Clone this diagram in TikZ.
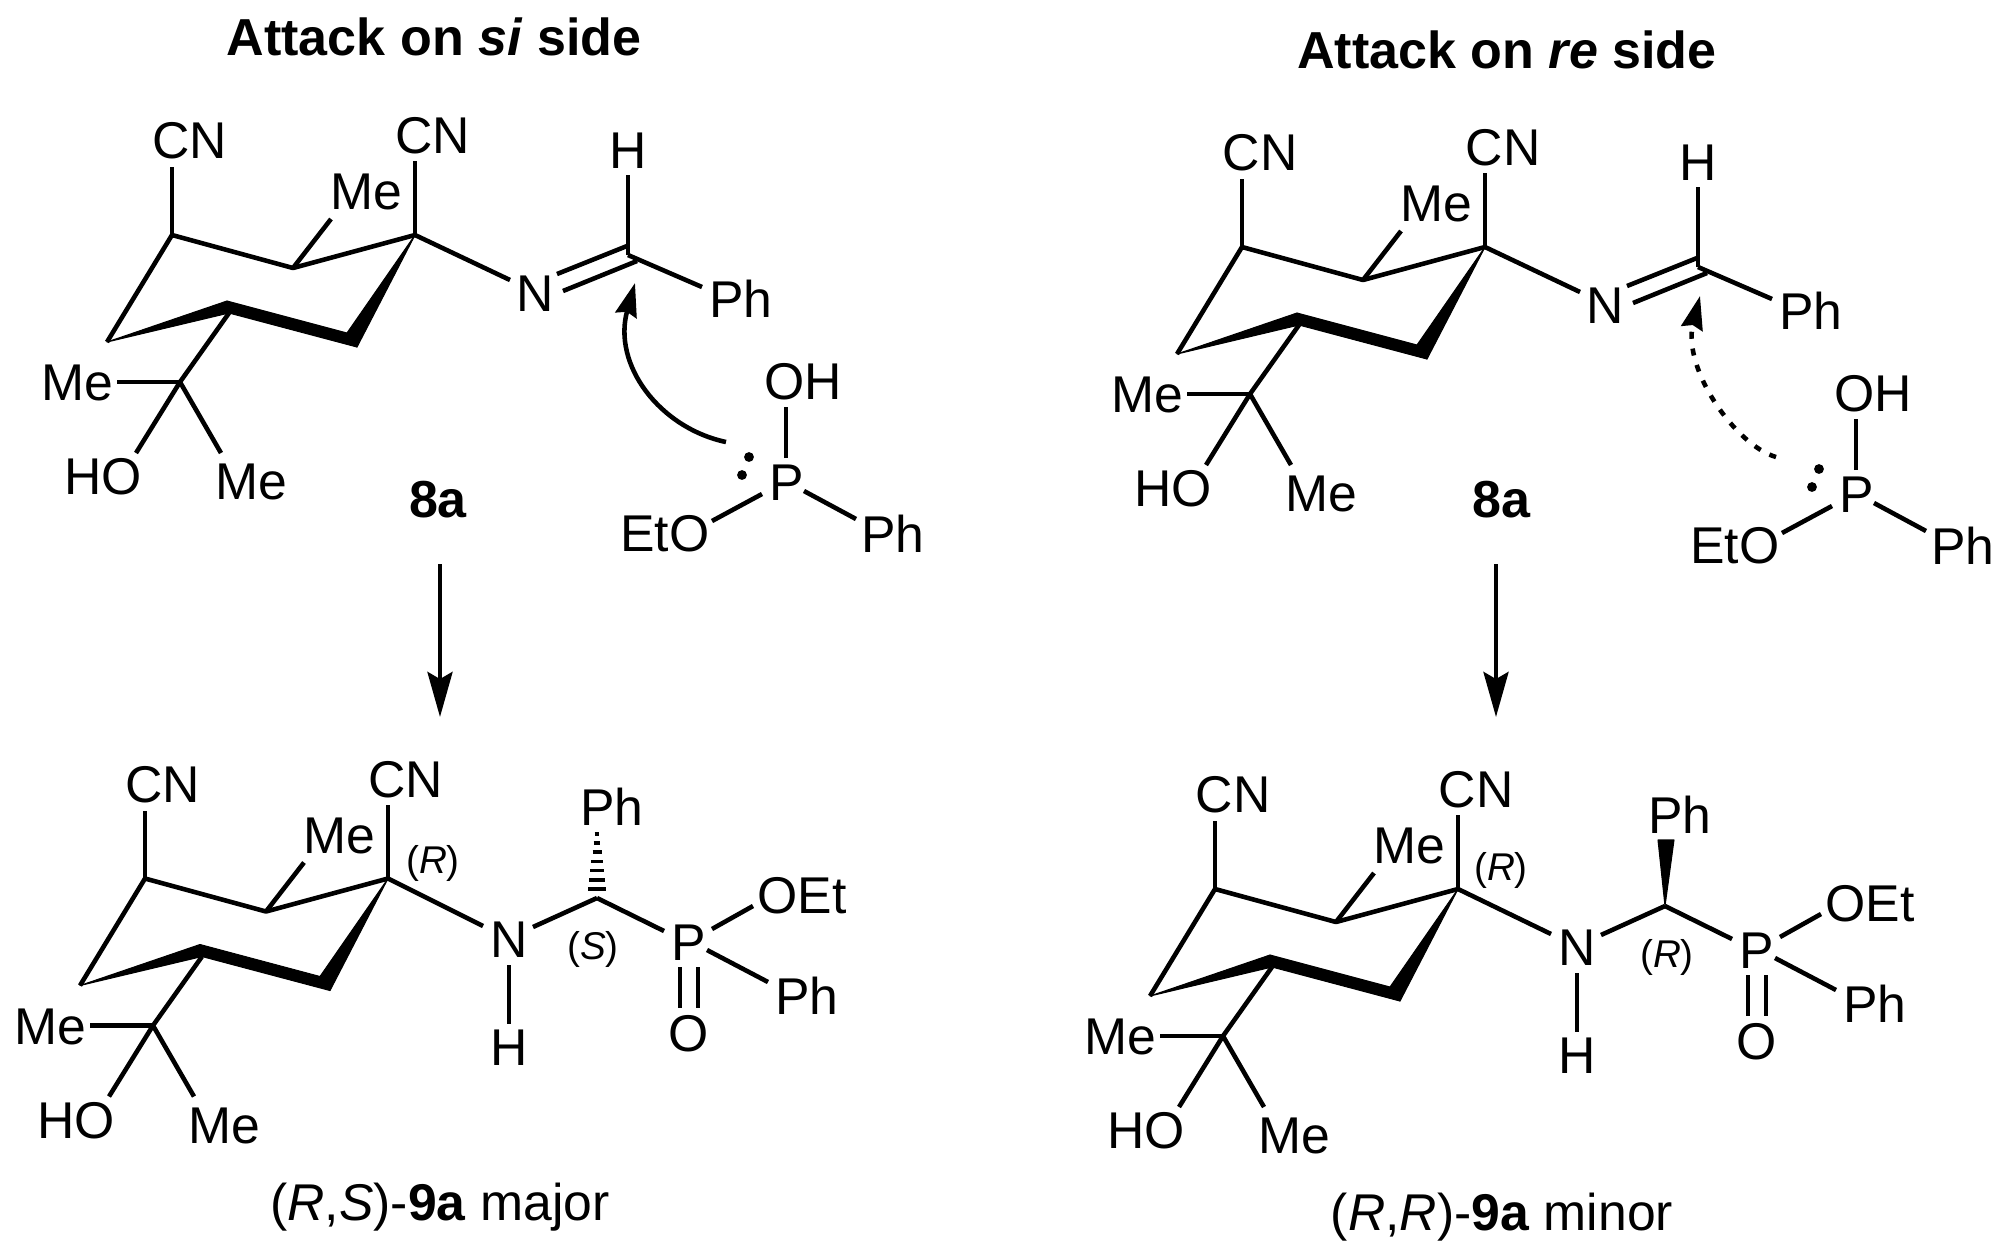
\documentclass[tikz,border=0pt]{standalone}
\usepackage{fontspec}
\setmainfont{Liberation Sans}
\usetikzlibrary{arrows.meta}

\tikzset{
	bond/.style = {line width = 1.3pt},
	atom/.style = {inner sep = 0pt, font = \fontsize{14.7}{17}\selectfont},
	tag/.style = {inner sep = 0pt, font = \fontsize{11}{13}\selectfont},
	head/.style = {inner sep = 0pt, font = \fontsize{14.8}{17}\selectfont\bfseries},
	solid wedge/.style = {draw, fill, line width = 0.3pt, line join = round},
	curly/.style = {bond, -{Stealth[length = 9.5pt, width = 6.2pt, inset = 1pt]}},
	% the chair with its cyano, methyl and carbinol groups
	chair/.pic = {
		\coordinate (a) at (172,235);
		\coordinate (b) at (293,268);
		\coordinate (c) at (415,235);
		\coordinate (d1) at (347,333);
		\coordinate (d2) at (357,347);
		\coordinate (e1) at (227,301);
		\coordinate (e2) at (229,313);
		\coordinate (f) at (107,342);
		\coordinate (q) at (180,382);
		\node [atom] (cna) at (190,141) {CN};
		\node [atom] (cnc) at (433,136) {CN};
		\node [atom] (meb) at (366,192) {Me};
		\node [atom] (mel) at (77,383) {Me};
		\node [atom] (ho) at (103,477) {HO};
		\node [atom] (mer) at (251,482) {Me};
		\coordinate (cnae) at (172,167);
		\coordinate (cnce) at (415,161);
		\coordinate (mebe) at (331,219);
		\coordinate (mele) at (117,382);
		\coordinate (hoe) at (136,453);
		\coordinate (mere) at (221,453);
		\draw [bond, line join = round] (f) -- (a) -- (b) -- (c);
		\path [solid wedge] (c) -- (d1) -- (d2) -- cycle;
		\path [solid wedge] (e1) -- (d1) -- (d2) -- (e2) -- cycle;
		\path [solid wedge] (f) -- (e1) -- (e2) -- cycle;
		\draw [bond] (a) -- (cnae);
		\draw [bond] (c) -- (cnce);
		\draw [bond] (b) -- (mebe);
		\draw [bond] (e2) -- (q);
		\draw [bond] (q) -- (mele);
		\draw [bond] (q) -- (hoe);
		\draw [bond] (q) -- (mere);
	},
	% the imine arm
	imine/.pic = {
		\coordinate (ne) at (510,280);
		\coordinate (ch) at (628,255);
		\node [atom] (n) at (535,294) {N};
		\node [atom] (h) at (628,151) {H};
		\node [atom] (ph) at (741,299) {Ph};
		\coordinate (he) at (628,175);
		\coordinate (phe) at (702,287);
		\coordinate (d1s) at (557,274);
		\coordinate (d1e) at (627,246);
		\coordinate (d2s) at (563,291);
		\coordinate (d2e) at (637,261);
		\draw [bond] (d1s) -- (d1e);
		\draw [bond] (d2s) -- (d2e);
		\draw [bond] (ch) -- (he);
		\draw [bond] (ch) -- (phe);
	},
	% the free phosphinite with its lone pair
	reagent/.pic = {
		\node [atom] (p) at (787,483) {P};
		\node [atom] (oh) at (803,382) {OH};
		\node [atom] (eto) at (665,534) {EtO};
		\node [atom] (ph) at (893,534) {Ph};
		\coordinate (ohs) at (786,458);
		\coordinate (ohe) at (786,407);
		\coordinate (etos) at (762,494);
		\coordinate (etoe) at (712,521);
		\coordinate (phs) at (804,491);
		\coordinate (phe) at (856,519);
		\draw [bond] (ohs) -- (ohe);
		\draw [bond] (etos) -- (etoe);
		\draw [bond] (phs) -- (phe);
		\fill (749,457) circle (1.4pt);
		\fill (742,475) circle (1.4pt);
	},
	% the product arm, without the bond to its phenyl
	product/.pic = {
		\coordinate (ne) at (483,926);
		\coordinate (ch) at (597,898);
		\node [atom] (n) at (509,940) {N};
		\node [atom] (h) at (509,1048) {H};
		\node [atom] (p) at (689,943) {P};
		\node [atom] (ph) at (612,807) {Ph};
		\node [atom] (oet) at (802,896) {OEt};
		\node [atom] (php) at (807,996) {Ph};
		\node [atom] (o) at (689,1034) {O};
		\coordinate (nhs) at (509,965);
		\coordinate (nhe) at (509,1024);
		\coordinate (nch) at (533,927);
		\coordinate (chp) at (664,931);
		\coordinate (oets) at (712,929);
		\coordinate (oete) at (753,906);
		\coordinate (phps) at (707,950);
		\coordinate (phpe) at (768,982);
		\coordinate (o1s) at (680,967);
		\coordinate (o1e) at (680,1008);
		\coordinate (o2s) at (698,967);
		\coordinate (o2e) at (698,1008);
		\draw [bond] (nhs) -- (nhe);
		\draw [bond] (nch) -- (ch);
		\draw [bond] (ch) -- (chp);
		\draw [bond] (oets) -- (oete);
		\draw [bond] (phps) -- (phpe);
		\draw [bond] (o1s) -- (o1e);
		\draw [bond] (o2s) -- (o2e);
	}
}

\begin{document}
\begin{tikzpicture}[x = 0.01cm, y = -0.01cm]
	\useasboundingbox (0,0) rectangle (2002,1250);
	
	\def\tx{1070};
	\def\ty{12};
	\def\bx{-27};
	\def\by{643.5};
	\def\cx{1043};
	\def\cy{654};
	
	\node [head] (si) at (434,37) {Attack on \textit{si} side};
	\node [head] (re) at (1507,50) {Attack on \textit{re} side};
	
	% si side, top
	\pic (tl-) {chair};
	\pic (ti-) {imine};
	\pic (tp-) {reagent};
	\draw [bond] (tl-c) -- (ti-ne);
	\node [head] (sub) at (438,500) {8a};
	\coordinate (tla) at (726,442);
	\coordinate (tlb) at (635,283);
	\draw [curly] (tla) .. controls (660,428) and (612,365) .. (tlb);
	
	% re side, top
	\pic (tr-) at (\tx,\ty) {chair};
	\pic (ri-) at (\tx,\ty) {imine};
	\pic (rp-) at (\tx,\ty) {reagent};
	\draw [bond] (tr-c) -- (ri-ne);
	\node [head] (subr) at (1501,500) {8a};
	\coordinate (tra) at (1776,457);
	\coordinate (trb) at (1700,296);
	\draw [curly, dash pattern = on 2pt off 2.8pt] (tra) .. controls (1735,445) and (1682,368) .. (trb);
	
	% reaction arrows
	\coordinate (ala) at (440,564);
	\coordinate (alb) at (440,717);
	\draw [bond, -{Stealth[length = 12.8pt, width = 7.1pt, inset = 2pt]}] (ala) -- (alb);
	\coordinate (ara) at (1496,564);
	\coordinate (arb) at (1496,717);
	\draw [bond, -{Stealth[length = 12.8pt, width = 7.1pt, inset = 2pt]}] (ara) -- (arb);
	
	% major product
	\pic (bl-) at (\bx,\by) {chair};
	\pic (bp-) {product};
	\draw [bond] (bl-c) -- (bp-ne);
	\foreach \i/\hw in {0/9, 1/8, 2/6.8, 3/5.6, 4/4.5, 5/3.4, 6/2.4}
		\draw [line width = 1pt] ({597 - \hw},{889 - 9.2*\i}) -- ({597 + \hw},{889 - 9.2*\i});
	\node [tag] (rl) at (433,863) {(\textit{R})};
	\node [tag] (sl) at (593,949) {(\textit{S})};
	\node [atom] (capl) at (440,1207) {(\textit{R},\textit{S})-\textbf{9a} major};
	
	% minor product
	\pic (br-) at (\cx,\cy) {chair};
	\pic (cp-) at (1068,8) {product};
	\draw [bond] (br-c) -- (cp-ne);
	\coordinate (wa) at (1658,840);
	\coordinate (wb) at (1674,840);
	\path [solid wedge] (cp-ch) -- (wa) -- (wb) -- cycle;
	\node [tag] (rr) at (1501,870) {(\textit{R})};
	\node [tag] (rs) at (1667,957) {(\textit{R})};
	\node [atom] (capr) at (1502,1217) {(\textit{R},\textit{R})-\textbf{9a} minor};
\end{tikzpicture}
\end{document}
